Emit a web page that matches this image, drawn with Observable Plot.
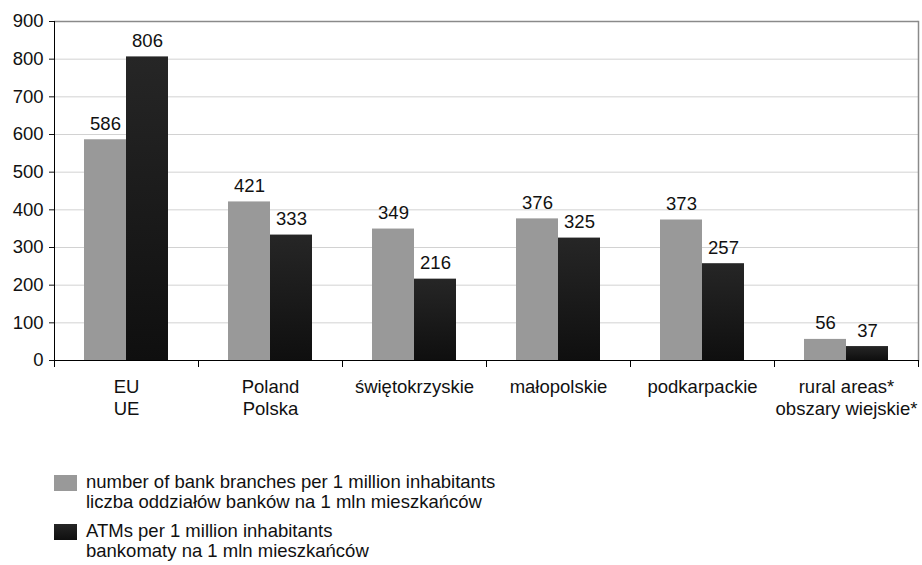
<!DOCTYPE html>
<html><head><meta charset="utf-8">
<script src="https://cdn.jsdelivr.net/npm/d3@7"></script>
<script src="https://cdn.jsdelivr.net/npm/@observablehq/plot@0.6"></script>
<style>
body{margin:0;background:#fff;font-family:"Liberation Sans",Arial,sans-serif;}
#chart{position:absolute;left:0;top:0;}
#legend{position:absolute;left:54px;top:472px;font-size:18.5px;color:#111;}
.item{display:flex;align-items:flex-start;line-height:20px;margin-bottom:9px;}
.sw{width:23px;height:16px;margin-top:3px;margin-right:9px;flex:none;}
</style></head><body><div id="chart"></div><div id="legend"></div>
<script>
const categories = ["EU\nUE","Poland\nPolska","świętokrzyskie","małopolskie","podkarpackie","rural areas*\nobszary wiejskie*"];
const branches = [586,421,349,376,373,56];
const atms = [806,333,216,325,257,37];
const seriesKeys = ["branches","atms"];
const seriesLabels = [
  ["number of bank branches per 1 million inhabitants","liczba oddziałów banków na 1 mln mieszkańców"],
  ["ATMs per 1 million inhabitants","bankomaty na 1 mln mieszkańców"]
];
const seriesColors = ["#999999","url(#atmGrad)"];
const yTicks = [0,100,200,300,400,500,600,700,800,900];

const rows = categories.flatMap((c,i)=>[
  {category:c, series:"branches", value:branches[i]},
  {category:c, series:"atms", value:atms[i]}
]);

const FS = 18.5;
const plot = Plot.plot({
  width: 922, height: 430,
  marginTop: 21, marginBottom: 70, marginLeft: 53, marginRight: 4,
  style: {fontFamily: "'Liberation Sans', Arial, sans-serif", fontSize: FS + "px", color: "#111", background: "transparent"},
  fx: {domain: categories, padding: 0, label: null},
  x: {domain: seriesKeys, paddingInner: 0, paddingOuter: 0.714, axis: null},
  y: {domain: [0, 900], label: null},
  marks: [
    Plot.gridY(yTicks, {stroke: "#d2d2d2", strokeOpacity: 1}),
    Plot.ruleY([900], {stroke: "#8a8a8a", strokeWidth: 1.5}),
    Plot.frame({anchor: "right", facetAnchor: "right", stroke: "#8a8a8a", strokeWidth: 1.5}),
    Plot.barY(rows.filter(d=>d.series==="branches"), {fx: "category", x: "series", y: "value", fill: seriesColors[0]}),
    Plot.barY(rows.filter(d=>d.series==="atms"), {fx: "category", x: "series", y: "value", fill: seriesColors[1]}),
    Plot.text(rows, {fx: "category", x: "series", y: "value", text: d=>String(d.value), dy: -10, lineAnchor: "bottom", fontSize: FS, fill: "#111"}),
    Plot.ruleY([0], {stroke: "#000"}),
    Plot.frame({anchor: "left", facetAnchor: "left", stroke: "#000", strokeOpacity: 1}),
    Plot.frame({anchor: "left", insetTop: 339, insetBottom: -6, stroke: "#000", strokeOpacity: 1}),
    Plot.frame({anchor: "right", facetAnchor: "right", insetTop: 339, insetBottom: -6, stroke: "#000", strokeOpacity: 1}),
    Plot.axisY(yTicks, {tickSize: 5, tickPadding: 6, label: null, fontSize: FS}),
    Plot.axisFx({anchor: "bottom", tickSize: 0, tickPadding: 17, label: null, lineHeight: 1.2, fontSize: FS})
  ]
});

const ns = "http://www.w3.org/2000/svg";
const defs = document.createElementNS(ns, "defs");
const grad = document.createElementNS(ns, "linearGradient");
grad.setAttribute("id", "atmGrad");
grad.setAttribute("x1", "0"); grad.setAttribute("y1", "0");
grad.setAttribute("x2", "0"); grad.setAttribute("y2", "1");
[["0%","#262626"],["100%","#0f0f0f"]].forEach(([o,c])=>{
  const s = document.createElementNS(ns, "stop");
  s.setAttribute("offset", o); s.setAttribute("stop-color", c);
  grad.appendChild(s);
});
defs.appendChild(grad);
plot.insertBefore(defs, plot.firstChild);
document.getElementById("chart").appendChild(plot);

const legend = document.getElementById("legend");
seriesKeys.forEach((k,i)=>{
  const item = document.createElement("div");
  item.className = "item";
  const sw = document.createElement("div");
  sw.className = "sw";
  sw.style.background = i === 0 ? "#999999" : "linear-gradient(#262626,#0f0f0f)";
  const txt = document.createElement("div");
  txt.innerHTML = seriesLabels[i].join("<br>");
  item.appendChild(sw); item.appendChild(txt);
  legend.appendChild(item);
});
</script></body></html>
